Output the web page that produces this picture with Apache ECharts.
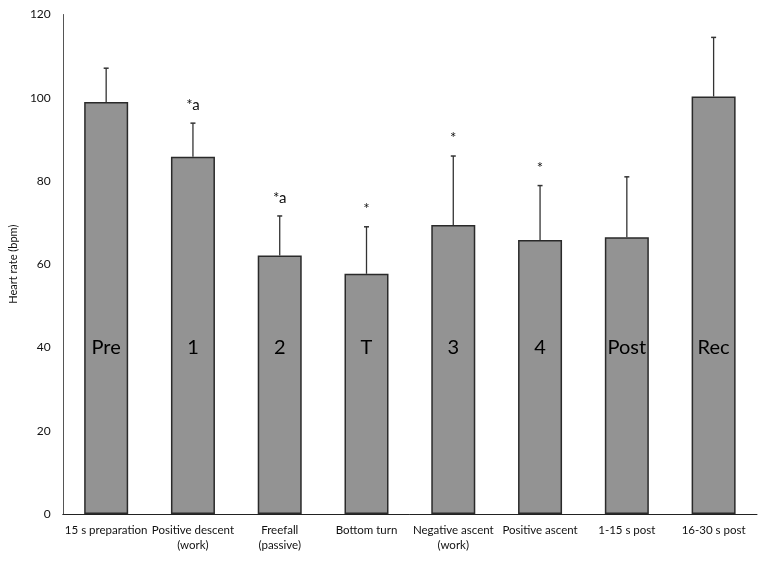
<!DOCTYPE html>
<html>
<head>
<meta charset="utf-8">
<script src="https://cdn.jsdelivr.net/npm/echarts@6/dist/echarts.min.js"></script>
<style>
  html, body { margin: 0; padding: 0; background: #fff; }
  #main { width: 767px; height: 563px; }
</style>
</head>
<body>
<div id="main"></div>
<script>
var categories = ['15 s preparation', 'Positive descent\n(work)', 'Freefall\n(passive)', 'Bottom turn',
  'Negative ascent\n(work)', 'Positive ascent', '1-15 s post', '16-30 s post'];
var phaseLabels = ['Pre', '1', '2', 'T', '3', '4', 'Post', 'Rec'];
var meanHR = [99.0, 85.8, 62.1, 57.7, 69.4, 65.8, 66.5, 100.3];
var sdHR = [8.1, 8.1, 9.5, 11.3, 16.6, 13.1, 14.5, 14.2];
var marks = ['', '*a', '*a', '*', '*', '*', '', ''];
var labelLevel = 40;
var yTicks = [0, 20, 40, 60, 80, 100, 120];

var font = 'Lato, "Open Sans", sans-serif';
var chartDom = document.getElementById('main');
var myChart = echarts.init(chartDom);
var option;

var errData = meanHR.map(function (m, i) { return [i, m, m + sdHR[i]]; });

option = {
  animation: false,
  backgroundColor: '#fff',
  grid: { left: 59, right: 10, top: 14.5, bottom: 49 },
  xAxis: {
    type: 'category',
    data: categories,
    axisLine: { lineStyle: { color: '#222', width: 1 } },
    axisTick: { show: false },
    axisLabel: { color: '#111', fontSize: 11.5, fontFamily: font, margin: 9, lineHeight: 15, interval: 0 }
  },
  yAxis: {
    type: 'value',
    min: yTicks[0],
    max: yTicks[yTicks.length - 1],
    interval: 20,
    name: 'Heart rate (bpm)',
    nameLocation: 'middle',
    nameGap: 41,
    nameTextStyle: { color: '#111', fontSize: 11, fontFamily: font },
    axisLine: { show: true, lineStyle: { color: '#555', width: 1 } },
    axisTick: { show: false },
    splitLine: { show: false },
    axisLabel: { color: '#111', fontSize: 12, fontFamily: font, margin: 12 }
  },
  series: [
    {
      type: 'bar',
      data: meanHR,
      barWidth: 44,
      itemStyle: { color: '#939393', borderColor: '#2a2a2a', borderWidth: 1.5 }
    },
    {
      // error bars + significance marks
      type: 'custom',
      data: errData,
      z: 5,
      renderItem: function (params, api) {
        var top = api.coord([api.value(0), api.value(2)]);
        var base = api.coord([api.value(0), api.value(1)]);
        var mark = marks[params.dataIndex];
        var children = [
          { type: 'line', shape: { x1: top[0], y1: base[1], x2: top[0], y2: top[1] },
            style: { stroke: '#333', lineWidth: 1.3 } },
          { type: 'line', shape: { x1: top[0] - 2.5, y1: top[1], x2: top[0] + 2.5, y2: top[1] },
            style: { stroke: '#333', lineWidth: 1.5 } }
        ];
        if (mark) {
          children.push({
            type: 'text',
            style: { text: mark, x: top[0], y: top[1] - 10, align: 'center', verticalAlign: 'bottom',
              fill: '#111', font: '15px ' + font }
          });
        }
        return { type: 'group', children: children };
      }
    },
    {
      // phase labels inside the bars
      type: 'custom',
      data: phaseLabels.map(function (t, i) { return [i, labelLevel]; }),
      z: 6,
      renderItem: function (params, api) {
        var p = api.coord([api.value(0), api.value(1)]);
        return {
          type: 'text',
          style: { text: phaseLabels[params.dataIndex], x: p[0], y: p[1], align: 'center',
            verticalAlign: 'middle', fill: '#000', font: '20px ' + font }
        };
      }
    }
  ]
};

option && myChart.setOption(option);
</script>
</body>
</html>
